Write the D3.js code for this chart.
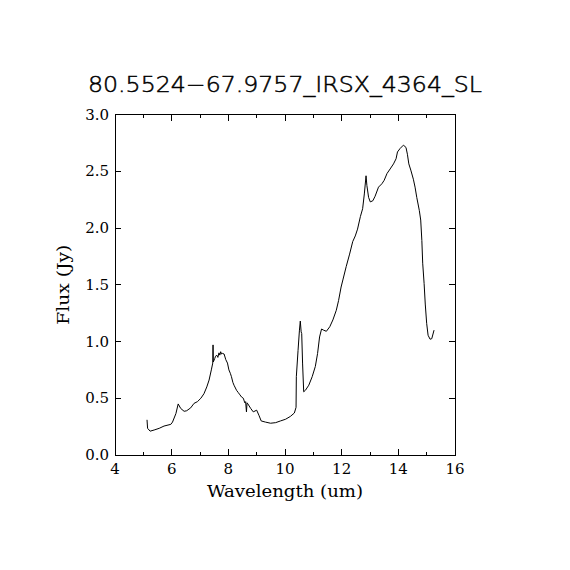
<!DOCTYPE html>
<html>
<head>
<meta charset="utf-8">
<script src="https://cdn.jsdelivr.net/npm/d3@7"></script>
<style>
  body { margin: 0; background: #fff; }
  text { fill: #000; }
</style>
</head>
<body>
<svg id="chart" width="570" height="570"></svg>
<script>
// spectrum
let wavelength = [5.13, 5.15, 5.24, 5.38, 5.56, 5.73, 5.97, 6.03, 6.15, 6.23, 6.32, 6.44, 6.53, 6.67, 6.79, 6.91,
    7.03, 7.14, 7.24, 7.32, 7.40, 7.45, 7.46, 7.47, 7.52, 7.55, 7.59, 7.63, 7.67, 7.70, 7.73, 7.76, 7.79, 7.85,
    7.91, 7.97, 8.02, 8.07, 8.11, 8.16, 8.20, 8.29, 8.35, 8.41, 8.47, 8.53, 8.58, 8.61, 8.64, 8.66, 8.69, 8.79,
    8.88, 9.00, 9.08, 9.16, 9.31, 9.49, 9.67, 9.84, 10.02, 10.19, 10.33, 10.39, 10.40, 10.46, 10.51, 10.54,
    10.57, 10.59, 10.62, 10.66, 10.72, 10.84, 10.96, 11.07, 11.15, 11.22, 11.29, 11.36, 11.46, 11.58, 11.69,
    11.81, 11.89, 11.98, 12.05, 12.16, 12.28, 12.39, 12.48, 12.56, 12.66, 12.74, 12.80, 12.86, 12.89, 12.95,
    13.01, 13.10, 13.18, 13.30, 13.42, 13.50, 13.60, 13.71, 13.83, 13.92, 13.97, 14.06, 14.18, 14.27, 14.32,
    14.37, 14.44, 14.53, 14.59, 14.65, 14.74, 14.79, 14.83, 14.86, 14.91, 14.95, 15.00, 15.05, 15.12, 15.18, 15.26];
let flux = [0.31, 0.235, 0.21, 0.22, 0.235, 0.255, 0.27, 0.29, 0.365, 0.45, 0.41, 0.385, 0.39, 0.415, 0.455, 0.47,
    0.50, 0.54, 0.60, 0.66, 0.75, 0.81, 0.97, 0.82, 0.85, 0.87, 0.88, 0.86, 0.90, 0.88, 0.91, 0.89, 0.895, 0.89,
    0.84, 0.81, 0.75, 0.72, 0.69, 0.64, 0.615, 0.57, 0.55, 0.53, 0.51, 0.50, 0.46, 0.47, 0.38, 0.46, 0.45, 0.41,
    0.38, 0.395, 0.35, 0.30, 0.29, 0.28, 0.285, 0.30, 0.315, 0.34, 0.37, 0.42, 0.69, 0.92, 1.10, 1.18,
    1.085, 1.07, 0.81, 0.557, 0.57, 0.615, 0.69, 0.78, 0.895, 1.04, 1.11, 1.10, 1.09, 1.13, 1.19,
    1.275, 1.36, 1.48, 1.55, 1.66, 1.77, 1.88, 1.93, 1.99, 2.10, 2.17, 2.30, 2.46, 2.375, 2.27,
    2.23, 2.24, 2.28, 2.36, 2.39, 2.42, 2.48, 2.52, 2.565, 2.61, 2.67, 2.70, 2.73, 2.71, 2.65,
    2.565, 2.51, 2.43, 2.36, 2.27, 2.155, 2.07, 1.89, 1.69, 1.51, 1.33, 1.16, 1.055, 1.02, 1.025, 1.10];

let titulo = "80.5524\u221267.9757_IRSX_4364_SL";
let xticks = [4, 6, 8, 10, 12, 14, 16];
let xminor = [5, 7, 9, 11, 13, 15];
let yticks = [0, 0.5, 1.0, 1.5, 2.0, 2.5, 3.0];

let svg = d3.select("#chart");
let mleft = 115, mright = 455, mtop = 114.5, mbottom = 455;

let x = d3.scaleLinear().domain([4, 16]).range([mleft, mright]);
let y = d3.scaleLinear().domain([0, 3]).range([mbottom, mtop]);

let serif = "'DejaVu Serif', serif";

// ticks pointing inward on all four sides
let g = svg.append("g").attr("stroke", "#000").attr("stroke-width", 1).attr("shape-rendering", "crispEdges");
g.append("rect")
    .attr("x", mleft).attr("y", mtop)
    .attr("width", mright - mleft).attr("height", mbottom - mtop)
    .attr("fill", "none");

g.selectAll(".xmaj").data(xticks).enter().append("path")
    .attr("d", d => "M" + x(d) + "," + mbottom + "v-6M" + x(d) + "," + mtop + "v6");
g.selectAll(".xmin").data(xminor).enter().append("path")
    .attr("d", d => "M" + x(d) + "," + mbottom + "v-3M" + x(d) + "," + mtop + "v3");
g.selectAll(".ymaj").data(yticks).enter().append("path")
    .attr("d", d => "M" + mleft + "," + y(d) + "h6M" + mright + "," + y(d) + "h-6");

svg.append("g").selectAll("text").data(xticks).enter().append("text")
    .attr("x", d => x(d)).attr("y", mbottom + 19)
    .attr("text-anchor", "middle")
    .style("font-family", serif).style("font-size", "15px")
    .text(d => d);

svg.append("g").selectAll("text").data(yticks).enter().append("text")
    .attr("x", mleft - 6).attr("y", d => y(d) + 5)
    .attr("text-anchor", "end")
    .style("font-family", serif).style("font-size", "15px")
    .text(d => d3.format(".1f")(d));

svg.append("text")
    .attr("x", (mleft + mright) / 2).attr("y", 497)
    .attr("text-anchor", "middle")
    .attr("textLength", 156).attr("lengthAdjust", "spacingAndGlyphs")
    .style("font-family", serif).style("font-size", "16px")
    .text("Wavelength (um)");

svg.append("text")
    .attr("transform", "translate(69," + ((mtop + mbottom) / 2) + ") rotate(-90)")
    .attr("text-anchor", "middle")
    .attr("textLength", 80).attr("lengthAdjust", "spacingAndGlyphs")
    .style("font-family", serif).style("font-size", "16px")
    .text("Flux (Jy)");

// thin title, darkened a little with a hairline stroke
svg.append("text")
    .attr("x", 285).attr("y", 92)
    .attr("text-anchor", "middle")
    .attr("textLength", 394).attr("lengthAdjust", "spacingAndGlyphs")
    .style("font-family", "'DejaVu Sans', sans-serif").style("font-size", "22px")
    .style("font-weight", "200")
    .style("stroke", "#000").style("stroke-width", "0.5px")
    .text(titulo);

let linea = d3.line()
    .x((d, i) => x(wavelength[i]))
    .y(d => y(d));

svg.append("path")
    .datum(flux)
    .attr("d", linea)
    .attr("fill", "none")
    .attr("stroke", "#000")
    .attr("stroke-width", 1);
</script>
</body>
</html>
